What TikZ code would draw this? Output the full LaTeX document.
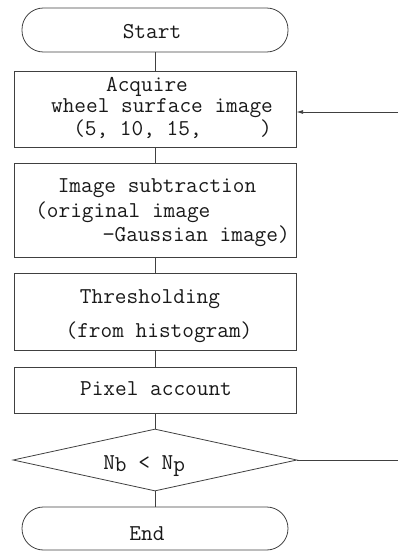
\documentclass[tikz,border=0pt]{standalone}
\usepackage{fontspec}
\usetikzlibrary{shapes.geometric, arrows.meta}

\tikzset{
  flow/.style={draw=black!75, line width=0.6pt},
  box/.style={flow, rectangle, minimum width=211.5pt, inner sep=0pt},
  term/.style={flow, rectangle, rounded corners=16pt, minimum width=199.5pt, minimum height=33pt, inner sep=0pt},
  decide/.style={flow, diamond, aspect=4.6, minimum width=213pt, minimum height=46.5pt, inner sep=0pt},
  txt/.style={font=\ttfamily\fontsize{17}{17}\selectfont, inner sep=0pt, anchor=base, text=black!90},
}

\begin{document}
\begin{tikzpicture}[x=0.75pt, y=-0.75pt, >=latex]
  \useasboundingbox (0,0) rectangle (404,553);

  % frames
  \node [term] (start) at (155,30) {};
  \node [box, minimum height=57pt] (acq) at (155,109) {};
  \node [box, minimum height=70.5pt] (sub) at (155,210) {};
  \node [box, minimum height=57.75pt] (thr) at (155,311.5) {};
  \node [box, minimum height=34.5pt] (pix) at (155,390) {};
  \node [decide] (dec) at (155,460) {};
  \node [term, minimum height=32.25pt] (end) at (155,528.5) {};

  % texts
  \node [txt] (startlbl) at (152,38) {Start};
  \node [txt] (acq1) at (147,91) {Acquire};
  \node [txt] (acq2) at (162,112) {wheel surface image};
  \node [txt, anchor=base west] (acq3) at (73,135.5) {(5, 10, 15,\ \ \ \ \ )};
  \node [txt] (sub1) at (157,192) {Image subtraction};
  \node [txt, anchor=base west] (sub2) at (35,217) {(original image};
  \node [txt, anchor=base east] (sub3) at (290,241) {−Gaussian image)};
  \node [txt] (thr1) at (150,303) {Thresholding};
  \node [txt] (thr2) at (159,337) {(from histogram)};
  \node [txt] (pixlbl) at (156,395) {Pixel account};
  \node [txt, anchor=base west] (declbl) at (103,469)
    {N\raisebox{-0.3ex}{b} < N\raisebox{-0.3ex}{p}};
  \node [txt] (endlbl) at (147,540) {End};

  % flow lines
  \draw [flow] (start) -- (acq);
  \draw [flow] (acq) -- (sub);
  \draw [flow] (sub) -- (thr);
  \draw [flow] (thr) -- (pix);
  \draw [flow] (pix) -- (dec);
  \draw [flow] (dec) -- (end);

  % loop back
  \coordinate (loopin) at (398,112);
  \coordinate (loopout) at (398,460);
  \draw [flow, -{Latex[length=5pt, width=3pt]}] (loopin) -- (loopin -| acq.east);
  \draw [flow] (dec.east) -- (loopout);
\end{tikzpicture}
\end{document}
